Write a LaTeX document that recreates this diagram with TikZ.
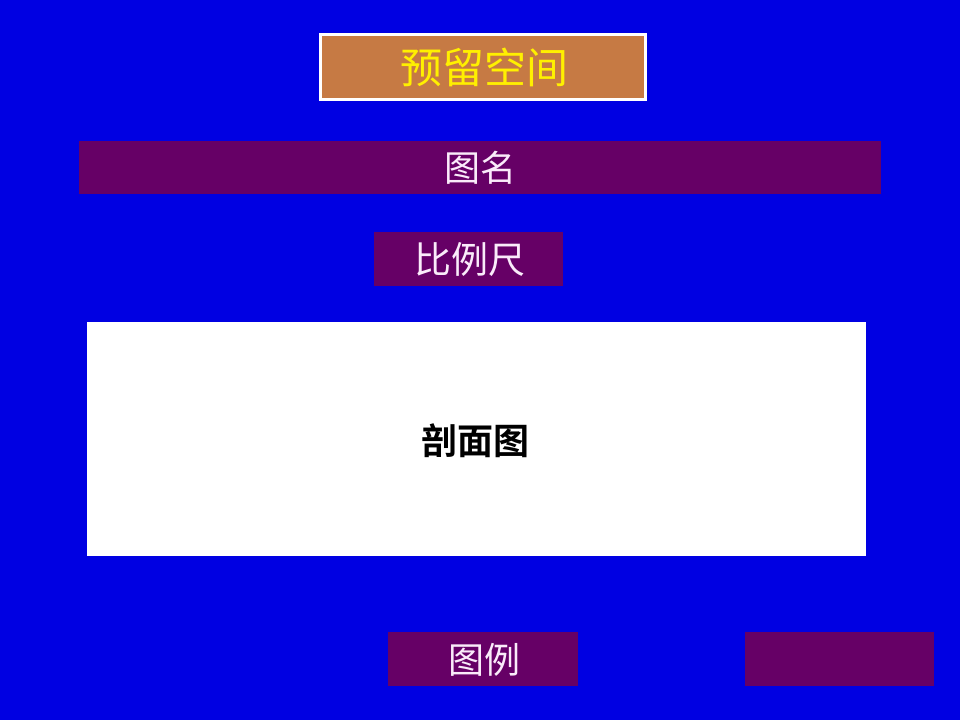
\documentclass[tikz,border=0pt]{standalone}
\usepackage{fontspec}
\newfontfamily\cjk{Noto Sans CJK SC}
\newfontfamily\cjkb{Noto Sans CJK SC Bold}
\definecolor{bgblue}{RGB}{0,0,226}
\definecolor{plum}{RGB}{102,0,102}
\definecolor{rust}{RGB}{198,122,68}
\definecolor{ylw}{RGB}{255,240,0}
\definecolor{pinkwhite}{RGB}{250,235,250}
\begin{document}
\begin{tikzpicture}[x=1pt,y=-1pt,
  pbox/.style={fill=plum,draw=none},
  lbl/.style={font=\cjk\fontsize{36}{38}\selectfont,text=pinkwhite}]
\fill[bgblue] (0,0) rectangle (960,720);
\useasboundingbox (0,0) rectangle (960,720);
% top box
\draw[white,line width=3pt,fill=rust] (320.5,34.5) rectangle (645.5,99.5);
\node[font=\cjk\fontsize{42}{44}\selectfont,text=ylw] (top) at (484,67) {预留空间};
% title bar
\fill[pbox] (79,141) rectangle (881,194);
\node[lbl] (name) at (480,168) {图名};
% scale
\fill[pbox] (374,232) rectangle (563,286);
\node[lbl,font=\cjk\fontsize{37}{39}\selectfont] (scale) at (470,260) {比例尺};
% section
\fill[white] (87,322) rectangle (866,556);
\node[font=\cjkb\fontsize{36}{38}\selectfont,text=black] (sec) at (475,441) {剖面图};
% legend
\fill[pbox] (388,632) rectangle (578,686);
\node[lbl] (leg) at (484,660) {图例};
% bottom right
\fill[pbox] (745,632) rectangle (934,686);
\end{tikzpicture}
\end{document}
